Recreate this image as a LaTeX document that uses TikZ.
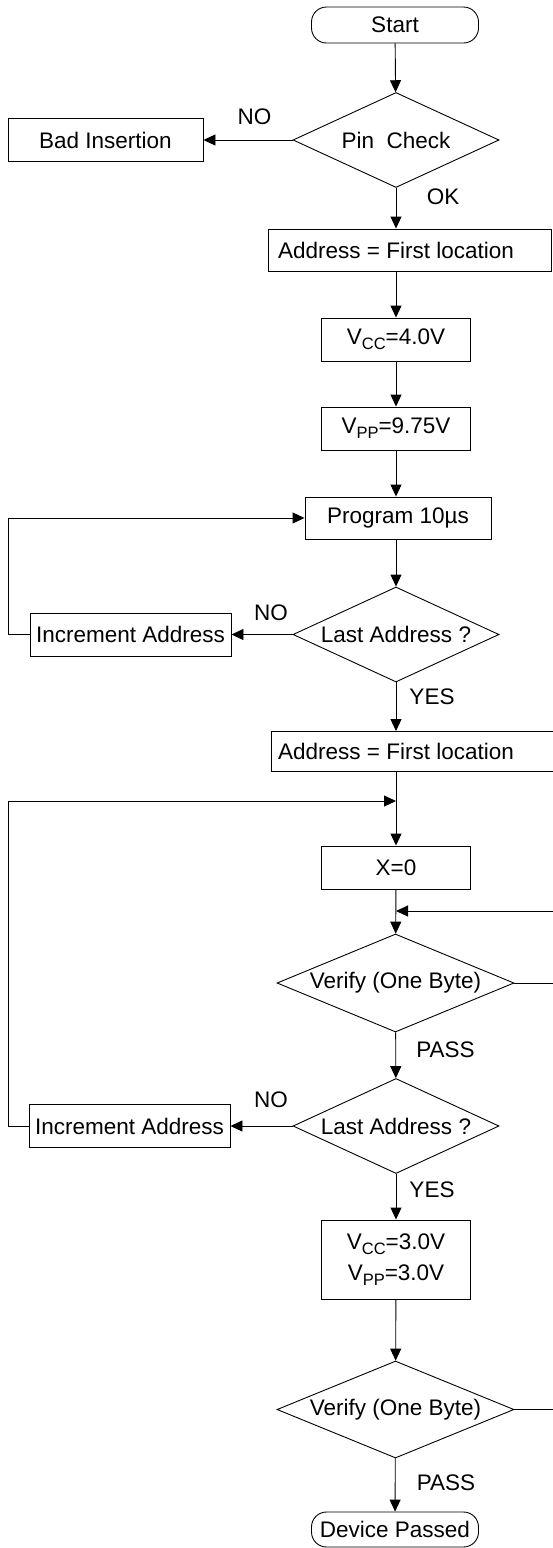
\documentclass[tikz,border=0pt]{standalone}
\usepackage{fontspec}
\setmainfont{Liberation Sans}
\usetikzlibrary{shapes.geometric,arrows.meta}
\newcommand{\lowsub}[1]{\raisebox{-0.22em}{\fontsize{16.5}{18}\selectfont #1}}
\tikzset{
  every node/.style={font=\fontsize{22.5}{27}\selectfont, text=black},
  proc/.style={draw, line width=0.9pt, inner sep=0pt, minimum height=43pt},
  term/.style={draw, line width=0.9pt, rounded corners=15pt, inner sep=0pt, minimum height=36pt, minimum width=167pt},
  dec/.style={draw, diamond, line width=0.9pt, inner sep=0pt},
  flow/.style={line width=0.9pt, -{Triangle[length=12pt,width=11pt]}},
  link/.style={line width=0.9pt},
  lbl/.style={inner sep=0pt},
}
\begin{document}
\begin{tikzpicture}[x=1pt,y=-1pt]
\useasboundingbox (0,0) rectangle (552,1548);
% nodes
\node[term] (start) at (395,25) {Start};
\node[dec, minimum width=206pt, minimum height=95pt, aspect=2.17] (pin) at (396,140) {Pin\ \ Check};
\node[proc, minimum width=195pt] (bad) at (105.5,140) {Bad Insertion};
\node[proc, minimum width=283pt, minimum height=42pt] (addr1) at (409.5,250) {Address = First location\hspace*{27pt}};
\node[proc, minimum width=149pt] (vcc) at (396,339.5) {V\lowsub{CC}=4.0V};
\node[proc, minimum width=149pt] (vpp) at (396,428.5) {V\lowsub{PP}=9.75V};
\node[proc, minimum width=186pt, minimum height=42pt] (prog) at (398,518) {Program 10µs};
\node[dec, minimum width=206pt, minimum height=95pt, aspect=2.17] (last1) at (396,634.5) {Last Address ?};
\node[proc, minimum width=201pt] (inc1) at (130.5,634.5) {Increment Address};
\node[proc, minimum width=289pt, minimum height=40pt] (addr2) at (415.5,751.5) {Address = First location\hspace*{39pt}};
\node[proc, minimum width=149pt] (x0) at (396,867.5) {X=0};
\node[dec, minimum width=237pt, minimum height=98pt, aspect=2.42] (ver1) at (395.5,983) {Verify (One Byte)};
\node[dec, minimum width=206pt, minimum height=95pt, aspect=2.17] (last2) at (396,1126) {Last Address ?};
\node[proc, minimum width=201pt] (inc2) at (129.5,1126) {Increment Address};
\node[proc, minimum width=149pt, minimum height=79pt, align=center, font=\fontsize{22.5}{31}\selectfont] (vcc2) at (396,1259.5) {V\lowsub{CC}=3.0V\\V\lowsub{PP}=3.0V};
\node[dec, minimum width=237pt, minimum height=97pt, aspect=2.44] (ver2) at (395.5,1409.5) {Verify (One Byte)};
\node[term, minimum height=35pt] (done) at (395,1529.5) {Device Passed};
% labels
\node[lbl] (lno1) at (254.5,117) {NO};
\node[lbl] (lok) at (443,197) {OK};
\node[lbl] (lno2) at (271,613) {NO};
\node[lbl] (lyes1) at (432,697) {YES};
\node[lbl] (lpass1) at (445.5,1050) {PASS};
\node[lbl] (lno3) at (271,1100) {NO};
\node[lbl] (lyes2) at (432,1190) {YES};
\node[lbl] (lpass2) at (446,1483) {PASS};
% helper coordinates
\coordinate (lx) at (8,0);
\coordinate (m1) at (396,801);
\coordinate (m2) at (396,911);
\coordinate (r1) at (560,911);
% connectors
\draw[flow] (start) -- (pin);
\draw[flow] (pin.west) -- (pin.west -| bad.east);
\draw[flow] (pin.south) -- (pin.south |- addr1.north);
\draw[flow] (pin.south |- addr1.south) -- (vcc.north);
\draw[flow] (vcc) -- (vpp);
\draw[flow] (vpp.south) -- (vpp.south |- prog.north);
\draw[flow] (vpp.south |- prog.south) -- (last1.north);
\draw[flow] (last1.west) -- (last1.west -| inc1.east);
\draw[flow] (inc1.west) -- (inc1.west -| lx) |- (prog.west);
\draw[flow] (last1.south) -- (last1.south |- addr2.north);
\draw[flow] (last1.south |- addr2.south) -- (x0.north);
\draw[flow] (inc2.west) -- (inc2.west -| lx) |- (m1);
\draw[flow] (x0) -- (ver1);
\draw[flow] (r1) -- (m2);
\draw[link] (ver1.east) -- (ver1.east -| r1);
\draw[flow] (ver1) -- (last2);
\draw[flow] (last2.west) -- (last2.west -| inc2.east);
\draw[flow] (last2) -- (vcc2);
\draw[flow] (vcc2) -- (ver2);
\draw[link] (ver2.east) -- (ver2.east -| r1);
\draw[flow] (ver2) -- (done);
\end{tikzpicture}
\end{document}
